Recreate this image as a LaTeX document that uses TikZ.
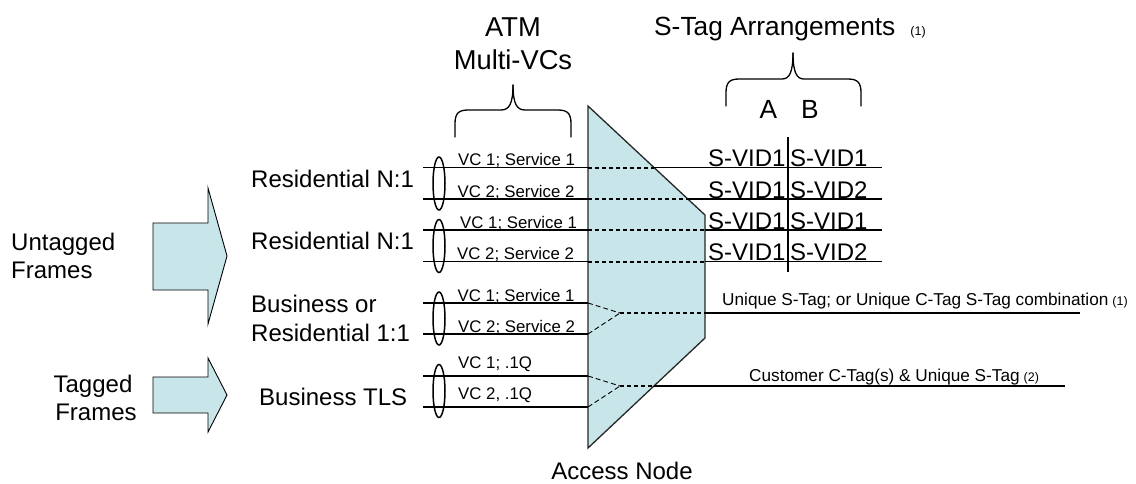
\documentclass[tikz,border=0pt]{standalone}
\usepackage{fontspec}
\setmainfont{Liberation Sans}
\usetikzlibrary{calc}
\definecolor{nodefill}{RGB}{200,230,233}
\newcommand{\bigf}{\fontsize{24}{28}\selectfont}
\newcommand{\headf}{\fontsize{26.3}{30}\selectfont}
\newcommand{\atmf}{\fontsize{27.3}{31}\selectfont}
\newcommand{\vcf}{\fontsize{16.8}{20}\selectfont}
\newcommand{\notef}{\fontsize{17.2}{20}\selectfont}
\newcommand{\tinyf}{\fontsize{12.5}{14}\selectfont}
\begin{document}
\begin{tikzpicture}[x=1pt,y=-1pt,
  lbl/.style={inner sep=0pt,font=\bigf},
  head/.style={inner sep=0pt,font=\headf},
  vclbl/.style={inner sep=0pt,font=\vcf,anchor=base west},
  notelbl/.style={inner sep=0pt,font=\notef,anchor=base west},
  vcline/.style={line width=1.1pt},
  thickdash/.style={line width=1.7pt,dash pattern=on 4pt off 3pt},
  thindash/.style={line width=0.9pt,dash pattern=on 5pt off 3pt},
  bigarrow/.style={fill=nodefill,draw=black,line width=0.9pt},
  bracestyle/.style={line width=1.3pt,line cap=round}]
\useasboundingbox (0,0) rectangle (1136,483);

% access node
\draw[fill=nodefill,draw=black!85,line width=1.3pt]
  (588,106) coordinate (apex) -- (705,215) coordinate (tr)
  -- (705,338) coordinate (br) -- (588,448) coordinate (bot) -- cycle;

% big arrows
\draw[bigarrow] (153,223) -- (208,223) -- (208,188) -- (227,256) -- (208,324) -- (208,290) -- (153,290) -- cycle;
\draw[bigarrow] (153,377) -- (208,377) -- (208,358) -- (227,395) -- (208,432) -- (208,413) -- (153,413) -- cycle;

% braces
\draw[bracestyle] (455,137) -- (455,124) .. controls (455,114) and (458,110) .. (468,110)
  -- (501,110) .. controls (509,110) and (513,104) .. (513,85);
\draw[bracestyle] (571,137) -- (571,124) .. controls (571,114) and (568,110) .. (558,110)
  -- (525,110) .. controls (517,110) and (513,104) .. (513,85);
\draw[bracestyle] (726,106) -- (726,93) .. controls (726,83) and (729,79) .. (739,79)
  -- (782,79) .. controls (789,79) and (793,73) .. (793,53);
\draw[bracestyle] (861,106) -- (861,93) .. controls (861,83) and (858,79) .. (848,79)
  -- (804,79) .. controls (797,79) and (793,73) .. (793,53);

% VC lines (left part)
\foreach \i/\y in {1/167.7,2/199,3/230,4/261.7,5/303,6/334,7/376,8/407}{
  \coordinate (in\i) at (423,\y);
  \coordinate (edge\i) at (588,\y);
  \draw[vcline] (in\i) -- (edge\i);
}

% ellipses
\foreach \i/\y in {1/183.5,2/246,3/318.5,4/391}{
  \draw[line width=1.5pt] (439,\y) ellipse [x radius=6, y radius=26.5];
}

% N:1 rows through the access node
\coordinate (x1) at (654,167.7);
\coordinate (x2) at (688,199);
\coordinate (x3) at (705,230);
\coordinate (x4) at (705,261.7);
\foreach \i in {1,2,3,4}{
  \draw[thickdash] (edge\i) -- (x\i);
  \draw[vcline] (x\i) -- (x\i -| 882,0);
}

% 1:1 merge
\coordinate (m1) at (620,313);
\coordinate (m1out) at (705,313);
\coordinate (m1end) at (1080,313);
\draw[thindash] (edge5) -- (m1);
\draw[thindash] (edge6) -- (m1);
\draw[thickdash] (m1) -- (m1out);
\draw[vcline] (m1out) -- (m1end);

% TLS merge
\coordinate (m2) at (620,386);
\coordinate (m2out) at (653.5,386);
\coordinate (m2end) at (1065,386);
\draw[thindash] (edge7) -- (m2);
\draw[thindash] (edge8) -- (m2);
\draw[thickdash] (m2) -- (m2out);
\draw[vcline] (m2out) -- (m2end);

% table divider
\draw[line width=1.1pt] (788,137) coordinate (divtop) -- (788,272) coordinate (divbot);

% headings
\node[inner sep=0pt,font=\atmf,anchor=base] (atm) at (513,36) {ATM};
\node[inner sep=0pt,font=\atmf,anchor=base] (mvc) at (513,69) {Multi-VCs};
\node[head,anchor=base west] (stag) at (654,35) {S-Tag Arrangements\hspace{15pt}{\tinyf(1)}};
\node[head,anchor=base] (colA) at (768.5,118) {A};
\node[head,anchor=base] (colB) at (810,118) {B};
\node[lbl,anchor=base] (access) at (622,479) {Access Node};

% left labels
\node[lbl,anchor=base west] (unt1) at (11,250) {Untagged};
\node[lbl,anchor=base west] (unt2) at (11,278) {Frames};
\node[lbl,anchor=base] (tag1) at (93,392) {Tagged};
\node[lbl,anchor=base] (tag2) at (96,420) {Frames};
\node[lbl,anchor=base west] (res1) at (251,187) {Residential N:1};
\node[lbl,anchor=base west] (res2) at (251,249) {Residential N:1};
\node[lbl,anchor=base west] (bus1) at (251,312) {Business or};
\node[lbl,anchor=base west] (bus2) at (251,341) {Residential 1:1};
\node[lbl,anchor=base west] (tls) at (259,405) {Business TLS};

% VC labels
\node[vclbl] (vc1) at (458,165.7) {VC 1; Service 1};
\node[vclbl] (vc2) at (457.5,197.7) {VC 2; Service 2};
\node[vclbl] (vc3) at (460,228.5) {VC 1; Service 1};
\node[vclbl] (vc4) at (457,259.8) {VC 2; Service 2};
\node[vclbl] (vc5) at (457.5,301.5) {VC 1; Service 1};
\node[vclbl] (vc6) at (458,332.3) {VC 2; Service 2};
\node[vclbl] (vc7) at (458,368) {VC 1; .1Q};
\node[vclbl] (vc8) at (458,399) {VC 2, .1Q};

% S-VID table
\foreach \i/\y/\a/\b in {1/166.7/1/1,2/198/1/2,3/229/1/1,4/260.7/1/2}{
  \node[lbl,anchor=base west] (sa\i) at (708,\y) {S-VID\a};
  \node[lbl,anchor=base west] (sb\i) at (790,\y) {S-VID\b};
}

% right-hand labels
\node[notelbl] (uniq) at (722,305) {Unique S-Tag; or Unique C-Tag S-Tag combination\hspace{4pt}{\tinyf(1)}};
\node[notelbl] (cust) at (749,381) {Customer C-Tag(s) \& Unique S-Tag\hspace{4pt}{\tinyf(2)}};
\end{tikzpicture}
\end{document}
